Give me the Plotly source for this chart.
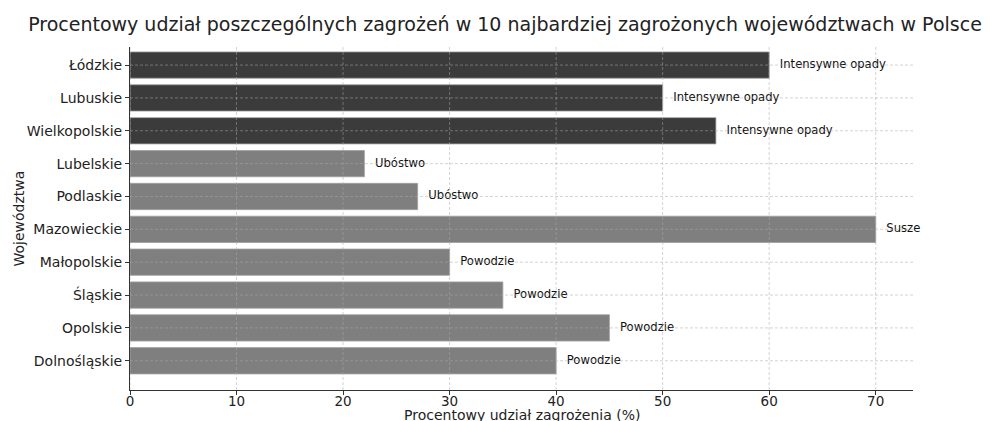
import plotly.graph_objects as go

# Dane (od dołu do góry wykresu)
wojewodztwa = ["Dolnośląskie", "Opolskie", "Śląskie", "Małopolskie", "Mazowieckie",
               "Podlaskie", "Lubelskie", "Wielkopolskie", "Lubuskie", "Łódzkie"]
udzial = [40, 45, 35, 30, 70, 27, 22, 55, 50, 60]
zagrozenia = ["Powodzie", "Powodzie", "Powodzie", "Powodzie", "Susze",
              "Ubóstwo", "Ubóstwo", "Intensywne opady", "Intensywne opady", "Intensywne opady"]
x_ticks = [0, 10, 20, 30, 40, 50, 60, 70]

kolory = {"Intensywne opady": "#3b3b3b"}
bar_colors = [kolory.get(z, "#7f7f7f") for z in zagrozenia]

font = "DejaVu Sans, Verdana, sans-serif"
grid_color = "rgba(170,170,170,0.5)"

fig = go.Figure()

fig.add_trace(go.Bar(
    x=udzial,
    y=wojewodztwa,
    orientation="h",
    width=0.8,
    marker=dict(color=bar_colors, line=dict(color="#a0a0a0", width=0.8)),
    showlegend=False,
    hoverinfo="skip",
))

# Etykiety zagrożeń obok słupków
fig.add_trace(go.Scatter(
    x=[v + 1 for v in udzial],
    y=wojewodztwa,
    mode="text",
    text=zagrozenia,
    textposition="middle right",
    textfont=dict(family=font, size=11.6, color="#111111"),
    showlegend=False,
    hoverinfo="skip",
    cliponaxis=False,
))

# Siatka rysowana nad słupkami (jak w oryginale)
for t in x_ticks:
    fig.add_shape(type="line", xref="x", yref="paper", x0=t, x1=t, y0=0, y1=1,
                  line=dict(color=grid_color, width=1, dash="3px,2px"), layer="above")
for w in wojewodztwa:
    fig.add_shape(type="line", xref="paper", yref="y", x0=0, x1=1, y0=w, y1=w,
                  line=dict(color=grid_color, width=1, dash="3px,2px"), layer="above")

fig.update_layout(
    width=992,
    height=421,
    margin=dict(l=122, r=87, t=39, b=39),
    paper_bgcolor="white",
    plot_bgcolor="white",
    font=dict(family=font, color="#222222"),
    title=dict(
        text="Procentowy udział poszczególnych zagrożeń w 10 najbardziej zagrożonych województwach w Polsce",
        x=0.501, xanchor="center", y=0.96, yanchor="middle",
        font=dict(size=19, color="#222222"),
    ),
    annotations=[
        dict(text="Procentowy udział zagrożenia (%)", xref="paper", yref="paper",
             x=0.5, y=0, xanchor="center", yanchor="middle", yshift=-25,
             showarrow=False, font=dict(size=14, color="#222222")),
        dict(text="Województwa", xref="paper", yref="paper",
             x=0, y=0.5, xanchor="center", yanchor="middle", xshift=-112,
             textangle=-90, showarrow=False, font=dict(size=14, color="#222222")),
    ],
)

fig.update_xaxes(
    range=[0, 73.5],
    tickvals=x_ticks,
    tickfont=dict(size=13.5),
    ticklabelstandoff=-5,
    showline=True, linecolor="#333333", linewidth=1,
    ticks="outside", ticklen=4, tickcolor="#333333",
    showgrid=False,
    zeroline=False,
    layer="above traces",
    automargin=False,
)

fig.update_yaxes(
    range=[-0.89, 9.55],
    tickfont=dict(size=14),
    showline=True, linecolor="#333333", linewidth=1,
    ticks="outside", ticklen=4, tickcolor="#333333",
    showgrid=False,
    zeroline=False,
    layer="above traces",
    automargin=False,
)

fig.write_html("out.html")
